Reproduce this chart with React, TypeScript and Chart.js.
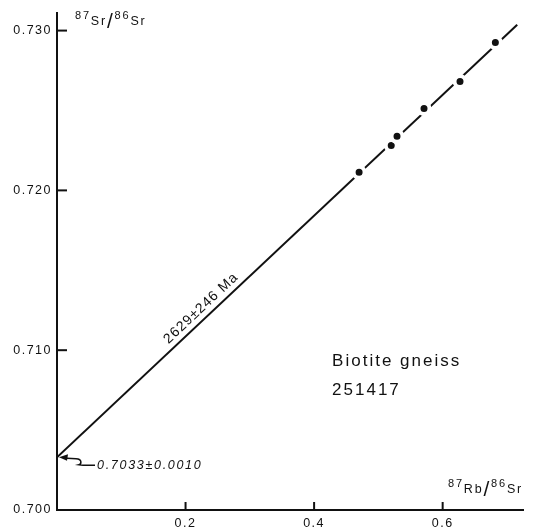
import React, { useEffect, useRef } from "react";
import { Chart, registerables } from "chart.js";

Chart.register(...registerables);

// ---- data ----
const xTickValues = [0.2, 0.4, 0.6];
const yTickValues = [0.7, 0.71, 0.72, 0.73];
const yTickLabels = ["0.700", "0.710", "0.720", "0.730"];
const sampleRbSr = [0.47, 0.52, 0.529, 0.571, 0.627, 0.682];
const sampleSrSr = [0.72113, 0.72281, 0.72338, 0.72513, 0.72681, 0.72925];
const isochronX = [0, 0.716];
const isochronY = [0.7033, 0.73037];
const X_MIN = 0;
const X_MAX = 0.725;
const Y_MIN = 0.7;
const Y_MAX = 0.7311;
const ageLabel = "2629\u00B1246 Ma";
const interceptLabel = "0.7033\u00B10.0010";
const sampleName = "Biotite gneiss";
const sampleId = "251417";

const FONT = "'Liberation Sans', Arial, Helvetica, sans-serif";
const INK = "#111";

function drawIsotopeRatio(ctx: CanvasRenderingContext2D, x: number, baseline: number, top: string, bottom: string) {
  ctx.save();
  ctx.fillStyle = INK;
  ctx.textAlign = "left";
  ctx.textBaseline = "alphabetic";
  ctx.letterSpacing = "1.8px";
  let cx = x;
  const parts: [string, number, number][] = [
    ["87", 11, -6],
    [top, 12.5, 0],
    ["/", 21, 3],
    ["86", 11, -6],
    [bottom, 12.5, 0],
  ];
  for (const [t, size, dy] of parts) {
    ctx.font = `${size}px ${FONT}`;
    ctx.fillText(t, cx, baseline + dy);
    cx += ctx.measureText(t).width;
  }
  ctx.restore();
}

const annotations = {
  id: "annotations",
  beforeDraw(chart: any) {
    chart.ctx.letterSpacing = "1.5px";
  },
  afterDraw(chart: any) {
    const ctx: CanvasRenderingContext2D = chart.ctx;
    const xs = chart.scales.x;
    const ys = chart.scales.y;
    const area = chart.chartArea;
    ctx.save();
    ctx.strokeStyle = INK;
    ctx.fillStyle = INK;
    ctx.lineWidth = 2;
    // inward ticks
    for (const v of xTickValues) {
      const px = xs.getPixelForValue(v);
      ctx.beginPath();
      ctx.moveTo(px, area.bottom);
      ctx.lineTo(px, area.bottom - 8);
      ctx.stroke();
    }
    for (const v of yTickValues) {
      const py = ys.getPixelForValue(v);
      ctx.beginPath();
      ctx.moveTo(area.left, py);
      ctx.lineTo(area.left + 10, py);
      ctx.stroke();
    }
    ctx.restore();

    // axis titles
    drawIsotopeRatio(ctx, area.left + 18, area.top + 12, "Sr", "Sr");
    drawIsotopeRatio(ctx, area.right - 75, area.bottom - 17, "Rb", "Sr");

    // age label along isochron
    const p0x = xs.getPixelForValue(isochronX[0]);
    const p0y = ys.getPixelForValue(isochronY[0]);
    const p1x = xs.getPixelForValue(isochronX[1]);
    const p1y = ys.getPixelForValue(isochronY[1]);
    const ang = Math.atan2(p1y - p0y, p1x - p0x);
    const t = 0.18 / (isochronX[1] - isochronX[0]);
    const bx = p0x + (p1x - p0x) * t + Math.sin(ang) * 6;
    const by = p0y + (p1y - p0y) * t - Math.cos(ang) * 6;
    ctx.save();
    ctx.translate(bx, by);
    ctx.rotate(ang);
    ctx.font = `14px ${FONT}`;
    ctx.letterSpacing = "1px";
    ctx.fillStyle = INK;
    ctx.textAlign = "left";
    ctx.textBaseline = "alphabetic";
    ctx.fillText(ageLabel, 0, 0);
    ctx.restore();

    // intercept label with arrow
    const ax = p0x + 2;
    const ay = p0y;
    ctx.save();
    ctx.strokeStyle = INK;
    ctx.fillStyle = INK;
    ctx.lineWidth = 1.5;
    ctx.beginPath();
    ctx.moveTo(ax + 8, ay + 1);
    ctx.lineTo(ax + 17, ay + 1.5);
    ctx.bezierCurveTo(ax + 24, ay + 2, ax + 22, ay + 7, ax + 20, ay + 7.5);
    ctx.lineTo(ax + 24, ay + 8);
    ctx.lineTo(ax + 36, ay + 8);
    ctx.stroke();
    ctx.beginPath();
    ctx.moveTo(ax, ay);
    ctx.lineTo(ax + 9, ay - 3);
    ctx.lineTo(ax + 8, ay + 3.5);
    ctx.closePath();
    ctx.fill();
    ctx.font = `italic 12.5px ${FONT}`;
    ctx.letterSpacing = "1.7px";
    ctx.textAlign = "left";
    ctx.textBaseline = "middle";
    ctx.fillText(interceptLabel, ax + 38, ay + 8);
    ctx.restore();

    // sample name
    ctx.save();
    ctx.fillStyle = INK;
    ctx.font = `17px ${FONT}`;
    ctx.letterSpacing = "2px";
    ctx.textAlign = "left";
    ctx.textBaseline = "alphabetic";
    const nx = xs.getPixelForValue(0.428);
    ctx.fillText(sampleName, nx, ys.getPixelForValue(0.70903));
    ctx.fillText(sampleId, nx, ys.getPixelForValue(0.70721));
    ctx.restore();
  },
};

export default function App() {
  const ref = useRef<HTMLCanvasElement | null>(null);
  useEffect(() => {
    if (!ref.current) return;
    const chart = new Chart(ref.current, {
      type: "scatter",
      data: {
        datasets: [
          {
            type: "line",
            label: "Isochron",
            data: isochronX.map((x, i) => ({ x, y: isochronY[i] })),
            borderColor: INK,
            borderWidth: 2,
            pointRadius: 0,
            fill: false,
            order: 2,
          },
          {
            type: "scatter",
            label: "Samples",
            data: sampleRbSr.map((x, i) => ({ x, y: sampleSrSr[i] })),
            backgroundColor: INK,
            pointRadius: 5.5,
            pointBorderWidth: 4,
            pointBorderColor: "#fff",
            order: 1,
          },
        ],
      },
      options: {
        responsive: false,
        animation: false,
        devicePixelRatio: 1,
        layout: { padding: { left: 0, top: 13, right: 12, bottom: 0 } },
        plugins: { legend: { display: false }, tooltip: { enabled: false } },
        scales: {
          x: {
            type: "linear",
            min: X_MIN,
            max: X_MAX,
            grid: { display: false, drawTicks: false },
            border: { display: true, color: INK, width: 2 },
            afterBuildTicks: (s: any) => {
              s.ticks = xTickValues.map((v) => ({ value: v }));
            },
            afterFit: (s: any) => {
              s.height = 19;
            },
            ticks: {
              padding: 6,
              color: INK,
              font: { family: FONT, size: 12.5 },
              maxRotation: 0,
              callback: (v: any) => String(v),
            },
          },
          y: {
            type: "linear",
            min: Y_MIN,
            max: Y_MAX,
            grid: { display: false, drawTicks: false },
            border: { display: true, color: INK, width: 2 },
            afterBuildTicks: (s: any) => {
              s.ticks = yTickValues.map((v) => ({ value: v }));
            },
            afterFit: (s: any) => {
              s.width = 57;
            },
            ticks: {
              padding: 5,
              color: INK,
              font: { family: FONT, size: 12.5 },
              callback: (v: any) => {
                const i = yTickValues.findIndex((t) => Math.abs(t - v) < 1e-9);
                return i >= 0 ? yTickLabels[i] : "";
              },
            },
          },
        },
      },
      plugins: [annotations],
    } as any);
    return () => chart.destroy();
  }, []);
  return (
    <div style={{ position: "fixed", left: 0, top: 0, width: 535, height: 529, background: "#fff" }}>
      <canvas ref={ref} width={535} height={529} />
    </div>
  );
}
